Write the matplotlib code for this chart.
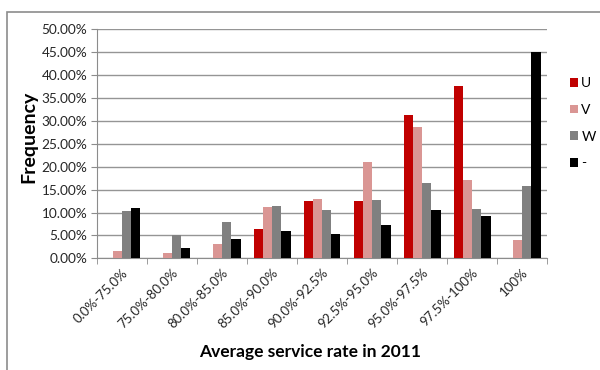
import matplotlib.pyplot as plt
from matplotlib.patches import Rectangle
import numpy as np

# service rate bins and share of each group per bin (%)
categorias = ['0.0%-75.0%', '75.0%-80.0%', '80.0%-85.0%', '85.0%-90.0%', '90.0%-92.5%',
              '92.5%-95.0%', '95.0%-97.5%', '97.5%-100%', '100%']
serie_u = [0.0, 0.0, 0.0, 6.3, 12.5, 12.5, 31.2, 37.6, 0.0]
serie_v = [1.5, 1.1, 3.2, 11.1, 13.0, 21.1, 28.6, 17.1, 4.0]
serie_w = [10.4, 5.1, 7.9, 11.4, 10.5, 12.7, 16.4, 10.8, 15.7]
serie_x = [10.9, 2.2, 4.3, 6.0, 5.3, 7.2, 10.5, 9.2, 45.0]
nombres = ['U', 'V', 'W', '-']
colores = ['#C00000', '#DA9694', '#808080', '#000000']

plt.rcParams['font.family'] = ['Lato', 'DejaVu Sans']

fig = plt.figure(figsize=(6, 3.7), dpi=100)
ax = fig.add_axes([97 / 600, 1 - 258.3 / 370, 450 / 600, 229 / 370])

# marco del area del grafico
fig.patches.append(Rectangle((7 / 600, -0.1), 1.1, 1 - 12 / 370 + 0.1, transform=fig.transFigure,
                             fill=False, edgecolor='#8c8c8c', linewidth=1.2))

x = np.arange(len(categorias))
ancho = 0.185
for i, (serie, nombre, color) in enumerate(zip([serie_u, serie_v, serie_w, serie_x], nombres, colores)):
    ax.bar(x + (i - 1.5) * ancho, serie, width=ancho, color=color, label=nombre, zorder=3)

ax.set_xlim(-0.5, len(categorias) - 0.5)
ax.set_ylim(0, 50)
ax.set_yticks(np.arange(0, 50.1, 5))
ax.set_yticklabels([f'{v:.2f}%' for v in np.arange(0, 50.1, 5)])
ax.yaxis.grid(True, color='#959595', linewidth=1.0, zorder=0)

ax.set_xticks(x)
ax.set_xticklabels(categorias, rotation=45, ha='right', va='top', rotation_mode='anchor')
ax.tick_params(axis='x', length=0, pad=6, labelsize=9.5, labelcolor='#262626')
ax.set_xticks(np.arange(-0.5, len(categorias)), minor=True)
ax.tick_params(axis='x', which='minor', length=4, color='#8c8c8c')
ax.tick_params(axis='y', length=4, color='#8c8c8c', labelsize=9.8, labelcolor='#262626', pad=3)

for lado in ['top', 'right']:
    ax.spines[lado].set_visible(False)
for lado in ['left', 'bottom']:
    ax.spines[lado].set_color('#8c8c8c')

fig.text(29 / 600, 1 - 137 / 370, 'Frequency', fontsize=14, fontweight='bold',
         rotation=90, ha='center', va='center')
fig.text(310 / 600, 1 - 352 / 370, 'Average service rate in 2011', fontsize=12.5,
         fontweight='bold', ha='center', va='center')

ax.legend(loc='upper left', bbox_to_anchor=(1.05, 0.79), frameon=False, fontsize=10,
          handlelength=0.6, handleheight=0.6, handletextpad=0.25, labelspacing=1.05,
          borderaxespad=0, borderpad=0)

fig.savefig('out.png', dpi=100)
